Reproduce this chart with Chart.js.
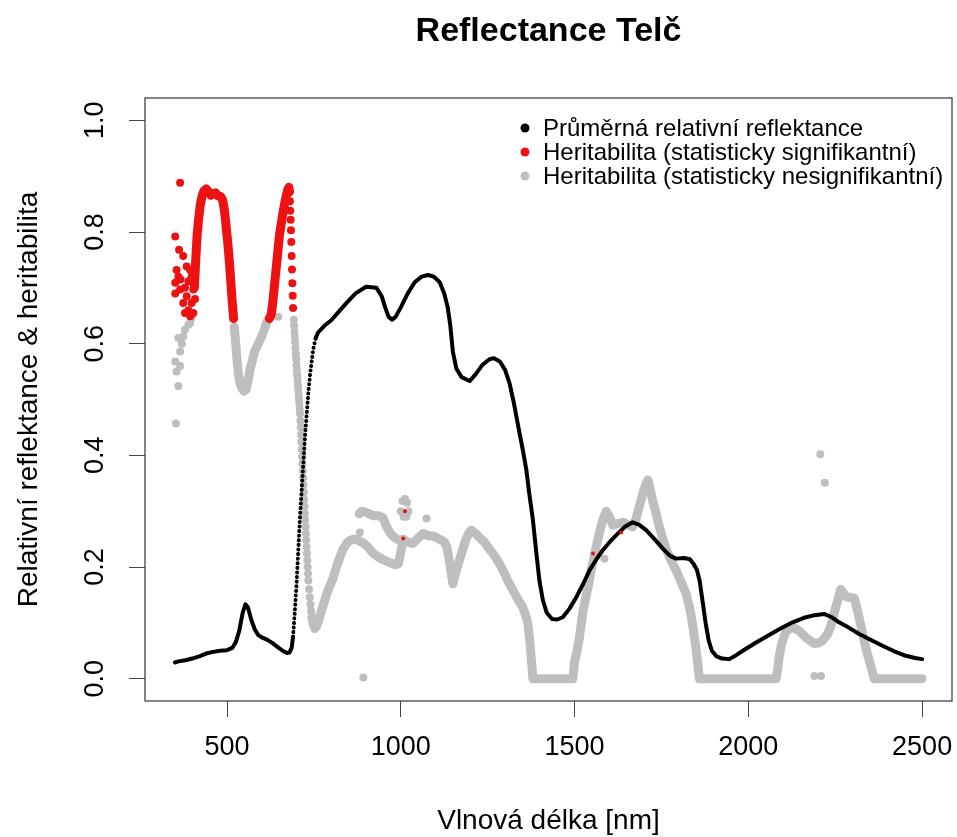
<!DOCTYPE html>
<html>
<head>
<meta charset="utf-8">
<script src="https://cdn.jsdelivr.net/npm/chart.js@4.4.1/dist/chart.umd.min.js"></script>
<style>
  html, body { margin: 0; padding: 0; background: #fff; }
  canvas { display: block; }
</style>
</head>
<body>
<canvas id="chart" width="957" height="837"></canvas>
<script>
// ---- values ----
const xTicks = [500, 1000, 1500, 2000, 2500];
const yTicks = [0, 0.2, 0.4, 0.6, 0.8, 1.0];
const legendLabels = [
    'Průměrná relativní reflektance',
    'Heritabilita (statisticky signifikantní)',
    'Heritabilita (statisticky nesignifikantní)'
];

// mean relative reflectance (black)
const reflNm = [350,360,380,400,420,440,460,480,500,515,
    525,535,545,553,560,570,580,590,600,615,
    630,645,660,672,680,686,690,695,700,705,
    710,715,720,725,730,735,740,748,755,762,
    780,800,820,844,870,900,930,945,955,965,
    975,985,1000,1020,1040,1060,1078,1095,1112,1125,
    1135,1142,1150,1160,1175,1198,1215,1235,1255,1268,
    1285,1300,1313,1325,1340,1351,1361,1370,1380,1390,
    1399,1409,1420,1435,1450,1466,1485,1505,1525,1543,
    1562,1581,1600,1620,1645,1667,1685,1706,1730,1754,
    1775,1792,1815,1832,1843,1852,1860,1868,1877,1886,
    1895,1908,1925,1945,1965,1984,2020,2051,2090,2127,
    2160,2185,2218,2240,2261,2290,2319,2350,2386,2420,
    2453,2480,2500];
const reflVal = [0.029,0.031,0.033,0.036,0.040,0.045,0.048,0.050,0.051,0.055,
    0.065,0.085,0.118,0.133,0.128,0.105,0.088,0.078,0.074,0.070,
    0.064,0.057,0.050,0.046,0.047,0.055,0.075,0.12,0.17,0.23,
    0.29,0.34,0.39,0.44,0.48,0.52,0.55,0.59,0.61,0.62,
    0.632,0.642,0.656,0.673,0.690,0.702,0.700,0.685,0.665,0.648,
    0.643,0.648,0.665,0.690,0.710,0.720,0.723,0.720,0.710,0.690,
    0.665,0.635,0.585,0.555,0.540,0.533,0.545,0.562,0.572,0.574,
    0.568,0.553,0.529,0.495,0.445,0.41,0.375,0.33,0.285,0.225,
    0.175,0.14,0.118,0.107,0.106,0.110,0.125,0.146,0.170,0.194,
    0.213,0.230,0.244,0.257,0.272,0.280,0.276,0.266,0.250,0.233,
    0.220,0.215,0.216,0.214,0.205,0.195,0.175,0.14,0.10,0.068,
    0.05,0.04,0.036,0.035,0.042,0.050,0.064,0.075,0.089,0.101,
    0.109,0.113,0.116,0.110,0.101,0.091,0.080,0.070,0.059,0.049,
    0.041,0.037,0.035];

// heritability, significant (red) - dense parts
const redNm = [406,410,414,418,423,428,434,440,447,453,460,467,474,481,487,491,495,499,503,507,511,515,519,
    560,
    622,627,631,635,639,643,647,651,656,661,666,671,675,678,680];
const redVal = [0.70,0.75,0.795,0.822,0.848,0.864,0.874,0.877,0.872,0.866,0.868,0.87,0.865,0.864,0.858,0.845,0.825,0.80,0.775,0.745,0.71,0.675,0.645,
    null,
    0.645,0.652,0.67,0.695,0.72,0.745,0.77,0.795,0.815,0.835,0.852,0.866,0.876,0.88,0.872];

// heritability, significant (red) - single points
const redDotNm = [351,355,351,351,360,362,365,365,366,374,374,379,379,384,384,389,389,394,394,398,398,403,403,408,408,
    681,682,683,684,685,686,687,688,689,690];
const redDotVal = [0.792,0.732,0.709,0.69,0.72,0.768,0.888,0.697,0.715,0.757,0.673,0.70,0.655,0.738,0.685,0.712,0.66,0.732,0.649,0.72,0.673,0.697,0.655,0.732,0.68,
    0.855,0.838,0.822,0.803,0.782,0.757,0.733,0.708,0.686,0.664];

// small red marks hidden in the grey band
const redSpeckNm = [1012, 1007, 1553, 1634];
const redSpeckVal = [0.30, 0.251, 0.224, 0.262];

// heritability, not significant (grey) - dense band
const greyNm = [521,524,528,532,537,543,549,555,560,566,573,580,590,600,607,614,620,
    660,
    744,748,752,757,763,770,777,785,795,805,
    815,825,834,845,855,865,877,892,905,920,935,950,968,985,993,998,1003,1010,1020,1035,
    1050,1064,1080,1095,1110,1125,1133,1140,1146,1150,1156,1165,1175,1185,1195,1203,1215,1228,
    1240,1252,1265,1280,1294,1308,1323,1337,1351,1360,1366,1371,1376,1380,1495,1500,1507,1514,
    1524,1534,1541,1548,1555,1562,1571,1581,1591,1600,1610,1625,1640,1655,1667,1676,1687,1698,
    1706,1711,1718,1725,1735,1744,1754,1764,1773,1783,1793,1802,1812,1821,1828,1835,1840,1845,
    1850,1854,1859,2080,2085,2089,2095,2102,2110,2127,2146,2165,2178,2190,2202,2213,2228,2236,
    2242,2250,2257,2266,2275,2285,2295,2305,2314,2322,2329,2338,2348,2356,2362,2500];
const greyVal = [0.63,0.608,0.577,0.548,0.53,0.52,0.515,0.518,0.532,0.553,0.57,0.587,0.60,0.613,0.625,0.638,0.645,
    null,
    0.11,0.098,0.09,0.093,0.103,0.118,0.132,0.148,0.165,0.18,
    0.20,0.218,0.232,0.243,0.248,0.25,0.248,0.243,0.236,0.225,0.218,0.213,0.208,0.204,0.206,0.22,0.238,0.248,0.245,0.242,
    0.252,0.26,0.256,0.255,0.25,0.245,0.235,0.21,0.185,0.17,0.185,0.205,0.225,0.245,0.26,0.266,0.26,0.252,
    0.245,0.235,0.224,0.21,0.194,0.175,0.158,0.142,0.128,0.112,0.098,0.068,0.032,0,0,0.03,0.05,0.074,
    0.12,0.15,0.17,0.195,0.215,0.236,0.26,0.284,0.30,0.29,0.275,0.278,0.28,0.275,0.272,0.285,0.31,0.335,
    0.35,0.356,0.338,0.318,0.295,0.272,0.25,0.232,0.218,0.205,0.193,0.18,0.165,0.152,0.135,0.115,0.095,0.074,
    0.05,0.03,0,0,0.02,0.04,0.06,0.075,0.086,0.092,0.086,0.074,0.068,0.063,0.064,0.068,0.08,0.092,
    0.104,0.125,0.14,0.16,0.152,0.146,0.145,0.144,0.122,0.10,0.08,0.055,0.032,0.015,0,0];

// grey: upper branch around 900-1000 nm
const greyUpperNm = [880,887,900,920,935,949,959,968,978,988,998,1007];
const greyUpperVal = [0.295,0.30,0.298,0.292,0.292,0.288,0.272,0.262,0.255,0.25,0.248,0.25];

// grey: single points (scattered values, the steep fall after 690 nm, outliers)
const greyDotNm = [351,353,355,360,360,365,365,370,374,379,389,394,398,647,
    692,693,694,695,696,697,698,699,700,701,702,703,704,705,706,707,708,709,710,
    711,712,713,714,715,716,717,718,719,720,721,722,723,724,725,726,727,728,729,
    730,731,732,733,734,736,738,740,742,
    882,892,1000,1005,1012,1018,1022,1008,1016,1074,1586,2190,2209,2207,2220];
const greyDotVal = [0.568,0.457,0.55,0.61,0.524,0.586,0.56,0.60,0.613,0.625,0.634,0.637,0.646,0.648,
    0.643,0.632,0.622,0.612,0.602,0.592,0.582,0.572,0.562,0.552,0.543,0.534,0.525,0.517,0.509,0.50,0.492,0.483,0.475,
    0.462,0.45,0.437,0.424,0.411,0.398,0.385,0.372,0.36,0.347,0.334,0.321,0.309,0.296,0.284,0.272,0.26,0.248,0.236,
    0.224,0.212,0.20,0.188,0.176,0.16,0.146,0.133,0.121,
    0.262,0.002,0.30,0.318,0.322,0.315,0.30,0.29,0.29,0.287,0.215,0.005,0.005,0.402,0.351];

// ---- helpers ----
function pts(xs, ys) {
    return xs.map((x, i) => ({ x: x, y: ys[i] }));
}

const BLACK = '#000000';
const RED = '#ee1111';
const GREY = '#bebebe';
const FONT = '"Liberation Sans", Arial, sans-serif';

// box, tick labels, titles and legend in R style
const decorations = {
    id: 'decorations',
    afterDraw(chart) {
        const { ctx, chartArea: a } = chart;
        const xs = chart.scales.x, ys = chart.scales.y;
        ctx.save();
        ctx.strokeStyle = '#333';
        ctx.lineWidth = 1.2;
        ctx.strokeRect(a.left, a.top, a.right - a.left, a.bottom - a.top);

        ctx.fillStyle = '#000';
        ctx.font = '27px ' + FONT;
        ctx.textAlign = 'center';
        ctx.textBaseline = 'alphabetic';
        xTicks.forEach(v => ctx.fillText(String(v), xs.getPixelForValue(v), 755));
        yTicks.forEach(v => {
            ctx.save();
            ctx.translate(103, ys.getPixelForValue(v));
            ctx.rotate(-Math.PI / 2);
            ctx.fillText(v.toFixed(1), 0, 0);
            ctx.restore();
        });

        const cx = (a.left + a.right) / 2;
        ctx.font = '28px ' + FONT;
        ctx.fillText('Vlnová délka [nm]', cx, 829);
        ctx.save();
        ctx.translate(37, (a.top + a.bottom) / 2);
        ctx.rotate(-Math.PI / 2);
        ctx.fillText('Relativní reflektance & heritabilita', 0, 0);
        ctx.restore();

        ctx.font = 'bold 34px ' + FONT;
        ctx.fillText('Reflectance Telč', cx, 41);

        // legend
        const colors = [BLACK, RED, GREY];
        ctx.font = '24px ' + FONT;
        ctx.textAlign = 'left';
        ctx.textBaseline = 'middle';
        legendLabels.forEach((t, i) => {
            const y = 128 + i * 24;
            ctx.fillStyle = colors[i];
            ctx.beginPath();
            ctx.arc(525, y, 4.5, 0, Math.PI * 2);
            ctx.fill();
            ctx.fillStyle = '#000';
            ctx.fillText(t, 543, y + 1);
        });
        ctx.restore();
    }
};

const tickGrid = { drawOnChartArea: false, drawTicks: true, tickLength: 16, color: '#444', lineWidth: 1 };
const steep = c => c.p0.parsed.x >= 690 && c.p1.parsed.x <= 755;

new Chart(document.getElementById('chart'), {
    type: 'scatter',
    data: {
        datasets: [
            { // red marks shown through the grey
                data: pts(redSpeckNm, redSpeckVal),
                pointRadius: 2, pointBackgroundColor: RED, pointBorderWidth: 0, showLine: false
            },
            { // mean reflectance
                data: pts(reflNm, reflVal),
                showLine: true, pointRadius: 0, borderColor: BLACK, borderWidth: 4,
                borderCapStyle: 'round', borderJoinStyle: 'round',
                segment: {
                    borderDash: c => steep(c) ? [0.1, 4.5] : undefined,
                    borderWidth: c => steep(c) ? 4 : undefined
                }
            },
            {
                data: pts(redDotNm, redDotVal),
                pointRadius: 4, pointBackgroundColor: RED, pointBorderWidth: 0, showLine: false
            },
            {
                data: pts(redNm, redVal),
                showLine: true, spanGaps: false, pointRadius: 0, borderColor: RED, borderWidth: 9,
                borderCapStyle: 'round', borderJoinStyle: 'round'
            },
            {
                data: pts(greyDotNm, greyDotVal),
                pointRadius: 4, pointBackgroundColor: GREY, pointBorderWidth: 0, showLine: false
            },
            {
                data: pts(greyUpperNm, greyUpperVal),
                showLine: true, pointRadius: 0, borderColor: GREY, borderWidth: 9,
                borderCapStyle: 'round', borderJoinStyle: 'round'
            },
            {
                data: pts(greyNm, greyVal),
                showLine: true, spanGaps: false, pointRadius: 0, borderColor: GREY, borderWidth: 9,
                borderCapStyle: 'round', borderJoinStyle: 'round'
            }
        ]
    },
    options: {
        responsive: false,
        animation: false,
        devicePixelRatio: 1,
        layout: { padding: { left: 129, right: 5, top: 98, bottom: 120 } },
        plugins: { legend: { display: false }, tooltip: { enabled: false }, title: { display: false } },
        scales: {
            x: {
                type: 'linear', min: 264, max: 2586,
                afterBuildTicks: s => { s.ticks = xTicks.map(v => ({ value: v })); },
                ticks: { display: false },
                grid: tickGrid,
                border: { display: false }
            },
            y: {
                type: 'linear', min: -0.04, max: 1.04,
                afterBuildTicks: s => { s.ticks = yTicks.map(v => ({ value: v })); },
                ticks: { display: false },
                grid: tickGrid,
                border: { display: false }
            }
        }
    },
    plugins: [decorations]
});
</script>
</body>
</html>
